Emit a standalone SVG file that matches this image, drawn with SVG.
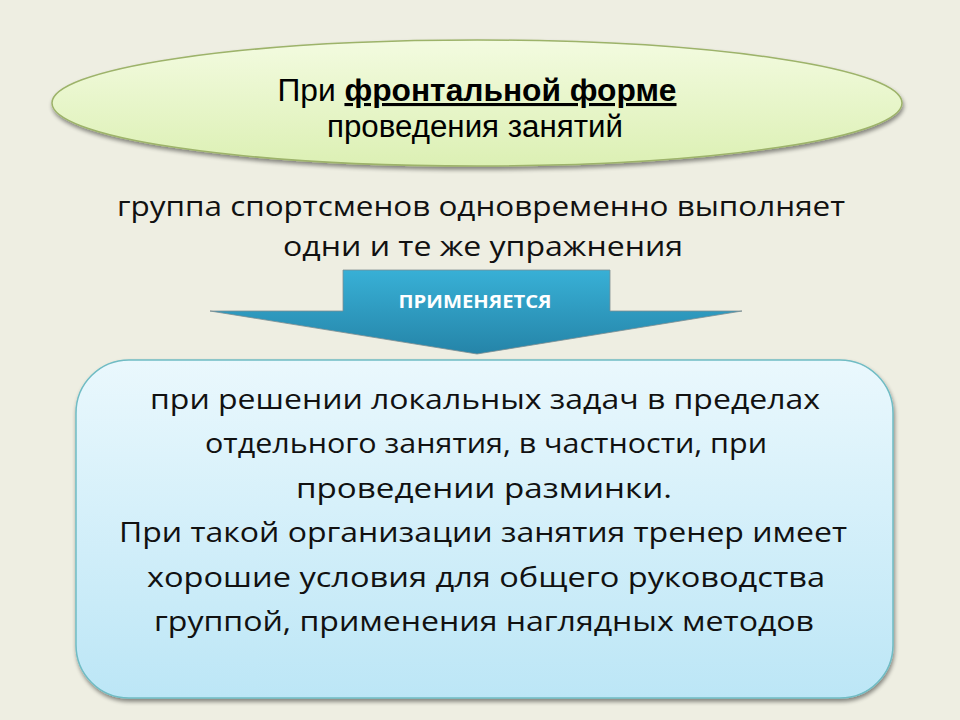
<svg xmlns="http://www.w3.org/2000/svg" width="960" height="720" viewBox="0 0 960 720">
<defs>
<linearGradient id="gEll" x1="0" y1="0" x2="0" y2="1">
<stop offset="0" stop-color="#F3FBE0"/>
<stop offset="1" stop-color="#DCF0B4"/>
</linearGradient>
<linearGradient id="gArr" x1="0" y1="0" x2="0" y2="1">
<stop offset="0" stop-color="#38B0D6"/>
<stop offset="1" stop-color="#2584A8"/>
</linearGradient>
<linearGradient id="gBox" x1="0" y1="0" x2="0" y2="1">
<stop offset="0" stop-color="#EAF8FD"/>
<stop offset="1" stop-color="#BCE6F6"/>
</linearGradient>
<filter id="sh" x="-10%" y="-10%" width="120%" height="130%">
<feGaussianBlur in="SourceAlpha" stdDeviation="2"/>
<feOffset dx="1" dy="3" result="b"/>
<feComponentTransfer><feFuncA type="linear" slope="0.45"/></feComponentTransfer>
<feMerge><feMergeNode/><feMergeNode in="SourceGraphic"/></feMerge>
</filter>
<style>
.t1{font-family:"Liberation Sans",Arial,sans-serif;font-size:31px;fill:#000;text-anchor:middle}
.t2{font-family:"Open Sans","Noto Sans",sans-serif;font-size:28px;fill:#111;text-anchor:middle}
.t3{font-family:"Open Sans","Noto Sans",sans-serif;font-size:28px;fill:#111;text-anchor:middle}
.lab{font-family:"Open Sans","Noto Sans",sans-serif;font-size:18px;font-weight:bold;fill:#fff;text-anchor:middle}
</style>
</defs>
<rect width="960" height="720" fill="#EEEEE2"/>
<g id="oval">
<ellipse cx="477" cy="103" rx="425" ry="63" fill="url(#gEll)" stroke="#9DB36A" stroke-width="1.5" filter="url(#sh)"/>
<text class="t1" x="477" y="101" textLength="399" lengthAdjust="spacingAndGlyphs">При <tspan font-weight="bold" text-decoration="underline">фронтальной форме</tspan></text>
<text class="t1" x="475" y="137" textLength="296" lengthAdjust="spacingAndGlyphs">проведения занятий</text>
</g>
<g id="desc">
<text class="t2" x="481" y="216" textLength="728" lengthAdjust="spacingAndGlyphs">группа спортсменов одновременно выполняет</text>
<text class="t2" x="483" y="256" textLength="400" lengthAdjust="spacingAndGlyphs">одни и те же упражнения</text>
</g>
<g id="connectors">
<g id="arrow">
<path d="M343,270 H610 V311 H742 L477,354 L210,311 H343 Z" fill="url(#gArr)" stroke="#7E8E92" stroke-width="0.8" stroke-linejoin="round"/>
<text class="lab" x="475" y="308" textLength="153" lengthAdjust="spacingAndGlyphs">ПРИМЕНЯЕТСЯ</text>
</g>
</g>
<g id="box">
<rect x="76" y="360" width="817" height="338" rx="53" ry="53" fill="url(#gBox)" stroke="#6FBCC4" stroke-width="1.5" filter="url(#sh)"/>
<text class="t3" x="485" y="409" textLength="670" lengthAdjust="spacingAndGlyphs">при решении локальных задач в пределах</text>
<text class="t3" x="486" y="453" textLength="562" lengthAdjust="spacingAndGlyphs">отдельного занятия, в частности, при</text>
<text class="t3" x="484" y="498" textLength="376" lengthAdjust="spacingAndGlyphs">проведении разминки.</text>
<text class="t3" x="483" y="542" textLength="728" lengthAdjust="spacingAndGlyphs">При такой организации занятия тренер имеет</text>
<text class="t3" x="486" y="587" textLength="678" lengthAdjust="spacingAndGlyphs">хорошие условия для общего руководства</text>
<text class="t3" x="484" y="631" textLength="660" lengthAdjust="spacingAndGlyphs">группой, применения наглядных методов</text>
</g>
</svg>
